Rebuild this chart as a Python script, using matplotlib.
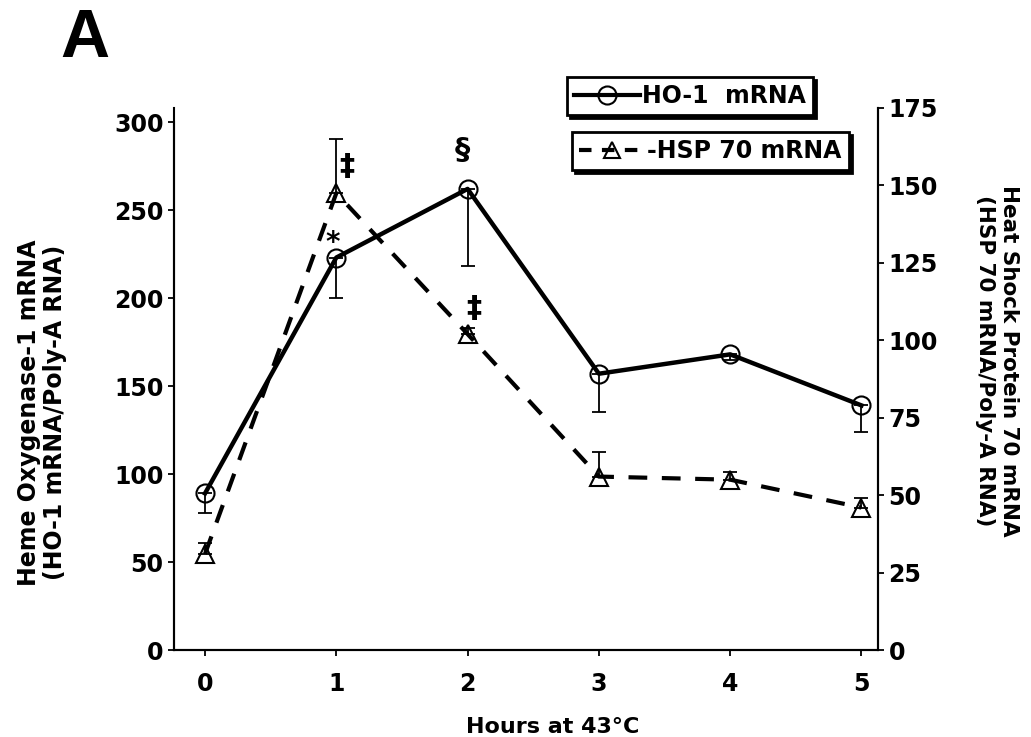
import matplotlib
matplotlib.use('Agg')
import matplotlib.pyplot as plt
from matplotlib.lines import Line2D

plt.rcParams['font.family'] = ['DejaVu Sans']
plt.rcParams['font.weight'] = 'bold'

hours = [0, 1, 2, 3, 4, 5]
ho1 = [89, 223, 262, 157, 168, 139]
ho1_err_low = [11, 23, 44, 22, 3, 15]
hsp70 = [31, 147.5, 102, 56, 55, 46]
hsp70_err_up = [3.5, 17.5, 2, 8, 2.5, 3]

left_ticks = [0, 50, 100, 150, 200, 250, 300]
right_ticks = [0, 25, 50, 75, 100, 125, 150, 175]

fig = plt.figure(figsize=(10.31, 7.37), dpi=100)
ax = fig.add_axes([0.1688, 0.118, 0.6828, 0.7355])
ax2 = ax.twinx()

# HO-1 on left axis
ax.errorbar(hours, ho1, yerr=[ho1_err_low, [0] * 6], fmt='none',
            ecolor='black', elinewidth=1.3, capsize=5, capthick=1.3)
ax.plot(hours, ho1, '-', color='black', lw=3.2, marker='o', ms=13,
        mfc='none', mec='black', mew=1.5)

# HSP 70 on right axis
ax2.errorbar(hours, hsp70, yerr=[[0] * 6, hsp70_err_up], fmt='none',
             ecolor='black', elinewidth=1.3, capsize=5, capthick=1.3)
ax2.plot(hours, hsp70, '--', color='black', lw=3, dashes=(4.5, 3.5),
         marker='^', ms=13, mfc='none', mec='black', mew=1.5)

ax.set_xlim(-0.236, 5.126)
ax.set_ylim(0, 308)
ax2.set_ylim(0, 175)
ax.set_xticks(hours)
ax.set_yticks(left_ticks)
ax2.set_yticks(right_ticks)
ax.spines['left'].set_bounds(0, 300)
ax.spines['top'].set_visible(False)
ax2.spines['top'].set_visible(False)
for a in (ax, ax2):
    for s in a.spines.values():
        s.set_linewidth(1.5)
    a.tick_params(labelsize=17, length=4, width=1.3, direction='out')
for lab in ax.get_xticklabels() + ax.get_yticklabels() + ax2.get_yticklabels():
    lab.set_fontweight('bold')
ax.tick_params(axis='x', pad=12)

# axis titles placed on the figure
fig.text(0.536, 0.0054, 'Hours at 43°C', fontsize=16, fontweight='bold',
         ha='center', va='baseline')
fig.text(0.041, 0.44, 'Heme Oxygenase-1 mRNA\n(HO-1 mRNA/Poly-A RNA)', fontsize=17,
         fontweight='bold', rotation=90, ha='center', va='center', multialignment='center',
         linespacing=1.1)
fig.text(0.967, 0.51, 'Heat Shock Protein 70 mRNA\n(HSP 70 mRNA/Poly-A RNA)', fontsize=15.5,
         fontweight='bold', rotation=270, ha='center', va='center', multialignment='center')

# significance marks
ax.text(1.08, 275, '‡', fontsize=22, fontweight='bold', ha='center', va='center')
ax.text(0.97, 231, '*', fontsize=20, fontweight='bold', ha='center', va='center')
ax.text(1.96, 284, '§', fontsize=22, fontweight='bold', ha='center', va='center')
ax.text(2.05, 194, '‡', fontsize=22, fontweight='bold', ha='center', va='center')

fig.text(0.0824, 0.9227, 'A', fontsize=49, fontweight='bold', ha='center', va='baseline',
         family='Liberation Sans')

# two separate legend boxes with solid shadows
h1 = Line2D([], [], color='black', lw=3, marker='o', ms=13, mfc='none', mew=1.5)
h2 = Line2D([], [], color='black', lw=3, ls='--', dashes=(3, 2.5), marker='^',
            ms=11, mfc='none', mew=1.5)
leg_kw = dict(fancybox=False, edgecolor='black', framealpha=1, borderpad=0.3,
              handlelength=2.8, handletextpad=0.1, borderaxespad=0,
              prop={'size': 17, 'weight': 'bold'},
              shadow={'color': 'black', 'alpha': 1})
leg1 = ax2.legend([h1], ['HO-1  mRNA'], loc='upper left',
                  bbox_to_anchor=(0.558, 1.057), **leg_kw)
leg1.get_frame().set_linewidth(2)
ax2.add_artist(leg1)
leg2 = ax2.legend([h2], ['-HSP 70 mRNA'], loc='upper left',
                  bbox_to_anchor=(0.565, 0.956), **leg_kw)
leg2.get_frame().set_linewidth(2)

fig.savefig('out.png', dpi=100)
